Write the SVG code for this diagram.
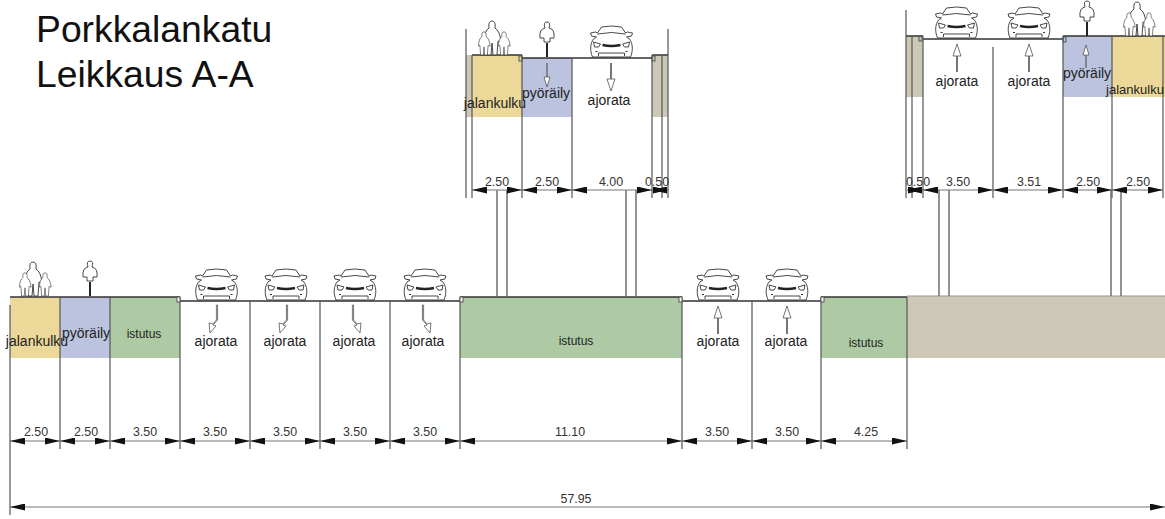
<svg xmlns="http://www.w3.org/2000/svg" width="1165" height="519" viewBox="0 0 1165 519">
<style>
text{font-family:"Liberation Sans",Arial,sans-serif;fill:#222;text-anchor:middle}
.t{font-size:37.300px;text-anchor:start;fill:#111}
.l{font-size:14px}.n{font-size:13px}.s{font-size:12px}.d{font-size:12.4px;fill:#333}
.ln{stroke:#555;stroke-width:1.2;fill:none}
.blk{stroke:#333;stroke-width:1.3;fill:none}
.dim{stroke:#777;stroke-width:1.2;fill:none;marker-start:url(#ah);marker-end:url(#ah)}
.p{stroke:#666;stroke-width:1.4;fill:none}
.ic{stroke:#333;stroke-width:.9;fill:#fff}
.st{stroke:#666;stroke-width:1.8;fill:none}
.hd{stroke:#666;stroke-width:.9;fill:#fff}
.th{stroke:#444;stroke-width:1;fill:none}
</style>
<defs>
<marker id="ah" viewBox="0 0 15 7" refX="15" refY="3.500" markerWidth="15" markerHeight="7" orient="auto-start-reverse" markerUnits="userSpaceOnUse"><path d="M0 0L15 3.500L0 7Z" fill="#111"/></marker>
<path id="fig" d="M-5 0L-6 -14-8 -13Q-8 -24-3 -27-4 -34 0 -34 4 -34 3 -27 8 -24 9 -13L6 -14 5 0H1L0 -12-1 0Z"/>
<symbol id="car" overflow="visible"><g class="ic"><path d="M-19 -1C-22 -8-21 -15-18 -19L-15 -21-20 -22-21 -25-16 -26-14 -25-10 -31Q0 -33 10 -31L14 -25 16 -26 21 -25 20 -22 15 -21 18 -19C21 -15 22 -8 19 -1Z"/><path d="M-14 -24Q0 -27 14 -24M-13 -2V-5H13V-2" fill="none"/><path d="M-18 -16L-11 -14-13 -11H-17ZM18 -16L11 -14 13 -11H17Z"/><path d="M-9 -13Q0 -11 9 -13" stroke-width="2.400" stroke="#222" fill="none"/><path d="M-15 -7V-6M15 -7V-6" stroke-width="2"/></g></symbol>
<symbol id="ppl" overflow="visible"><g class="ic"><use href="#fig" x="1"/><use href="#fig" transform="translate(-7 0) scale(.68)"/><use href="#fig" transform="translate(13 0) scale(.68)"/></g></symbol>
<symbol id="cyc" overflow="visible"><g class="ic"><path d="M-3 -15L-3 -19-7 -19Q-8 -28-2 -29-4 -35 0 -35 4 -35 2 -29Q8 -28 7 -19L3 -19 3 -15Z"/><path d="M0 0V-14" stroke-width="2" stroke="#222"/></g></symbol>
<symbol id="up" overflow="visible"><path class="st" d="M0 0V-16"/><path class="hd" d="M-4 -16L0 -28 4 -16Z"/></symbol>
<symbol id="dn" overflow="visible"><path class="st" d="M0 0V16"/><path class="hd" d="M-4 16L0 28 4 16Z"/></symbol>
<symbol id="tl" overflow="visible"><path class="hd" d="M-.6 0V15L-4 19-8 18-7 28-1 21-4 20 .6 15V0Z"/></symbol>
<symbol id="tr" overflow="visible"><path class="hd" d="M.6 0V15L4 19 8 18 7 28 1 21 4 20-.6 15V0Z"/></symbol>
</defs>
<rect width="1165" height="519" fill="#fff"/>
<g id="title"><text class="t" x="36" y="42">Porkkalankatu</text><text class="t" x="36" y="87">Leikkaus A-A</text></g>
<g id="surfaces">
<rect x="10" y="297" width="50" height="61" fill="#ecd898"/><rect x="60" y="297" width="50" height="61" fill="#bcc3de"/><rect x="110" y="297" width="70" height="61" fill="#aecaa4"/>
<rect x="460" y="297" width="222" height="61" fill="#aecaa4"/><rect x="821" y="297" width="86" height="61" fill="#aecaa4"/><rect x="907" y="296" width="258" height="62" fill="#cdc8b5"/>
<rect x="466" y="55" width="6" height="62" fill="#cdc8b5"/><rect x="472" y="55" width="50" height="62" fill="#ecd898"/><rect x="522" y="58" width="50" height="59" fill="#bcc3de"/><rect x="652" y="55" width="16" height="62" fill="#cdc8b5"/>
<rect x="906" y="36" width="17" height="61" fill="#cdc8b5"/><rect x="1063" y="36" width="49" height="61" fill="#bcc3de"/><rect x="1112" y="36" width="53" height="61" fill="#ecd898"/>
</g>
<g id="connectors">
<path class="blk" d="M10 297H180M180 301H460M460 297H682M682 301H821M821 297H907M472 55H522M522 58H652M652 55H668M906 36H923M923 39H1063M1063 36H1165"/>
<path class="ln" d="M907 296H1165" style="stroke:#999"/>
<path class="ln" d="M10 305V515M60 297V449M110 297V449M180 297V449M250 301V449M320 301V449M390 301V449M460 297V449M682 297V449M752 301V449M821 297V449M907 297V449"/>
<path class="ln" d="M466 29V198M472 55V198M522 55V198M572 58V198M652 55V198M662 55V198M668 29V198"/>
<path class="ln" d="M906 10V198M912 36V198M923 36V198M993 47V198M1063 36V198M1112 36V198M1163 36V198"/>
<path class="p" d="M497 190V297M507 190V297M626 190V297M636 190V297M939 190V296M949 190V296M1111 190V296M1121 190V296"/>
<path class="dim" d="M10 441H60"/><path class="dim" d="M60 441H110"/><path class="dim" d="M110 441H180"/><path class="dim" d="M180 441H250"/><path class="dim" d="M250 441H320"/><path class="dim" d="M320 441H390"/><path class="dim" d="M390 441H460"/><path class="dim" d="M460 441H682"/><path class="dim" d="M682 441H752"/><path class="dim" d="M752 441H821"/><path class="dim" d="M821 441H907"/>
<path class="dim" d="M10 507H1165"/>
<path class="dim" d="M472 190H522"/><path class="dim" d="M522 190H572"/><path class="dim" d="M572 190H652"/><path class="dim" d="M652 190H668"/>
<path class="dim" d="M907 190H923"/><path class="dim" d="M923 190H993"/><path class="dim" d="M993 190H1063"/><path class="dim" d="M1063 190H1112"/><path class="dim" d="M1112 190H1163"/>
<g fill="#fff" stroke="#555"><rect x="177" y="297" width="3" height="5"/><rect x="460" y="297" width="3" height="5"/><rect x="679" y="297" width="3" height="5"/><rect x="821" y="297" width="3" height="5"/><rect x="519" y="56" width="3" height="5" fill="none"/><rect x="652" y="56" width="3" height="5" fill="none"/><rect x="919" y="36" width="3" height="5" fill="none"/><rect x="1063" y="37" width="3" height="5" fill="none"/></g>
</g>
<g id="lower-left-walk"><use href="#ppl" x="32" y="296"/><text class="l" x="37" y="346">jalankulku</text><text class="d" x="36" y="436">2.50</text></g>
<g id="lower-cycle"><use href="#cyc" x="90" y="296"/><text class="l" x="86" y="338">pyöräily</text><text class="d" x="86" y="436">2.50</text></g>
<g id="lower-plant-1"><text class="s" x="144" y="338">istutus</text><text class="d" x="145" y="436">3.50</text></g>
<g id="lane-1"><use href="#car" x="216.500" y="301"/><use href="#tl" x="217" y="305"/><text class="l" x="216" y="345.500">ajorata</text><text class="d" x="215" y="435.500">3.50</text></g>
<g id="lane-2"><use href="#car" x="286" y="301"/><use href="#tl" x="287" y="305"/><text class="l" x="285" y="345.500">ajorata</text><text class="d" x="285" y="435.500">3.50</text></g>
<g id="lane-3"><use href="#car" x="355" y="301"/><use href="#tr" x="353" y="305"/><text class="l" x="354" y="345.500">ajorata</text><text class="d" x="355" y="435.500">3.50</text></g>
<g id="lane-4"><use href="#car" x="425" y="301"/><use href="#tr" x="423" y="305"/><text class="l" x="423" y="345.500">ajorata</text><text class="d" x="425" y="435.500">3.50</text></g>
<g id="median"><text class="s" x="576" y="345">istutus</text><text class="d" x="570" y="435.500">11.10</text></g>
<g id="lane-5"><use href="#car" x="718" y="301"/><use href="#up" x="718" y="334"/><text class="l" x="718" y="345.500">ajorata</text><text class="d" x="717" y="435.500">3.50</text></g>
<g id="lane-6"><use href="#car" x="787" y="301"/><use href="#up" x="787" y="334"/><text class="l" x="786" y="345.500">ajorata</text><text class="d" x="787" y="435.500">3.50</text></g>
<g id="lower-plant-2"><text class="s" x="866" y="347">istutus</text><text class="d" x="866" y="435.500">4.25</text></g>
<g id="total"><text class="d" x="576" y="503">57.95</text></g>
<g id="upper-left-walk"><use href="#ppl" x="491" y="55"/><text class="l" x="495" y="108">jalankulku</text><text class="d" x="497" y="186">2.50</text></g>
<g id="upper-left-cycle"><use href="#cyc" x="547" y="57"/><path class="th" d="M547 63V78"/><path class="hd" d="M544 77L547 87 550 77Z"/><text class="l" x="546" y="98">pyöräily</text><text class="d" x="547" y="186">2.50</text></g>
<g id="upper-left-lane"><use href="#car" x="611.500" y="58"/><use href="#dn" x="611" y="63"/><text class="l" x="609" y="105">ajorata</text><text class="d" x="611" y="186">4.00</text></g>
<g id="upper-left-edge"><text class="d" x="657" y="186">0.50</text></g>
<g id="upper-right-edge"><text class="d" x="918" y="186">0.50</text></g>
<g id="upper-right-lane-1"><use href="#car" x="956.500" y="39"/><use href="#up" x="957" y="72"/><text class="l" x="957" y="85.500">ajorata</text><text class="d" x="958" y="186">3.50</text></g>
<g id="upper-right-lane-2"><use href="#car" x="1029" y="39"/><use href="#up" x="1029" y="72"/><text class="l" x="1029" y="85.500">ajorata</text><text class="d" x="1029" y="186">3.51</text></g>
<g id="upper-right-cycle"><use href="#cyc" x="1087" y="36"/><path class="th" d="M1086 68V55"/><path class="hd" d="M1083 55L1086 45 1089 55Z"/><text class="l" x="1087" y="78">pyöräily</text><text class="d" x="1088" y="186">2.50</text></g>
<g id="upper-right-walk"><use href="#ppl" x="1136" y="36"/><text class="n" x="1135" y="94">jalankulku</text><text class="d" x="1138" y="186">2.50</text></g>
</svg>
